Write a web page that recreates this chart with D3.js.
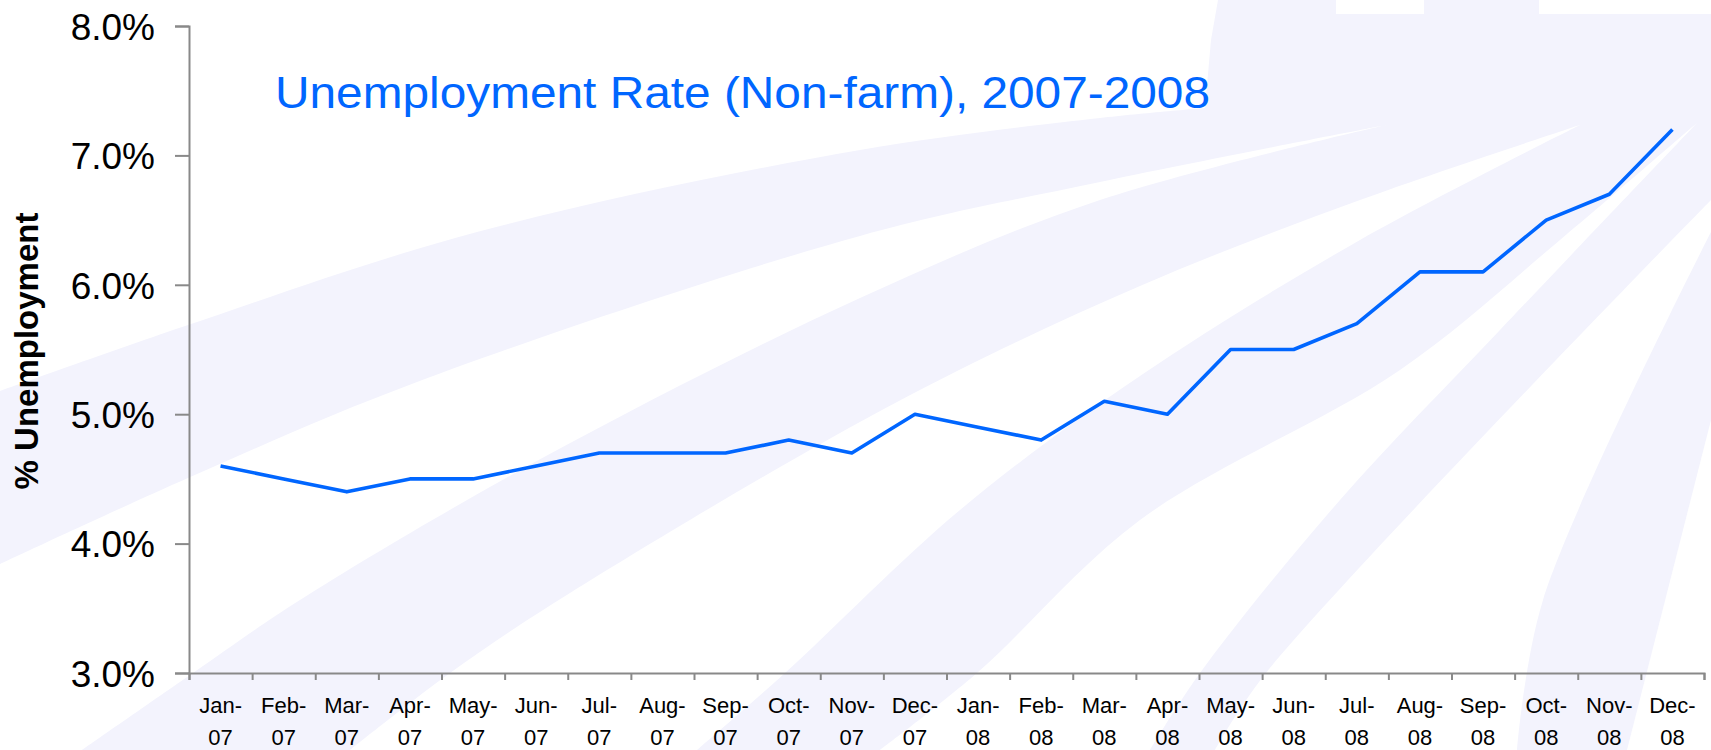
<!DOCTYPE html>
<html>
<head>
<meta charset="utf-8">
<script src="https://cdn.jsdelivr.net/npm/d3@7"></script>
<style>
  body { margin: 0; background: #fff; }
  svg { display: block; font-family: "Liberation Sans", Arial, sans-serif; }
</style>
</head>
<body>
<script>
// chart data
var months = ["Jan-07", "Feb-07", "Mar-07", "Apr-07", "May-07", "Jun-07",
              "Jul-07", "Aug-07", "Sep-07", "Oct-07", "Nov-07", "Dec-07",
              "Jan-08", "Feb-08", "Mar-08", "Apr-08", "May-08", "Jun-08",
              "Jul-08", "Aug-08", "Sep-08", "Oct-08", "Nov-08", "Dec-08"];
var rates = [4.6, 4.5, 4.4, 4.5, 4.5, 4.6, 4.7, 4.7, 4.7, 4.8, 4.7, 5.0,
             4.9, 4.8, 5.1, 5.0, 5.5, 5.5, 5.7, 6.1, 6.1, 6.5, 6.7, 7.2];
var yTicks = [3, 4, 5, 6, 7, 8];
var chartTitle = "Unemployment Rate (Non-farm), 2007-2008";
var yTitle = "% Unemployment";

var width = 1711, height = 750;
var margin = {top: 26, right: 7, bottom: 77, left: 189};

var svg = d3.select("body").append("svg")
    .attr("width", width)
    .attr("height", height);

// decorative sunburst behind the chart: a pale fan with white rays cut into it.
// each shape = curved edge, straight bits along the border, curved edge back
var edge = d3.line().curve(d3.curveCatmullRom.alpha(0.5));
function shape(s) {
  var p = edge(s.a);
  (s.corners || []).forEach(function(c) { p += "L" + c[0] + "," + c[1]; });
  if (s.b) p += "L" + edge(s.b).slice(1);
  return p + "Z";
}
var fan = {a: [[0,391],[188,325],[477,232],[860,150],[1100,118],[1205,108]],
           corners: [[1211,40],[1218,0],[1711,0],[1711,750],[0,750]]};
var rays = [
  {a: [[1336,0],[1424,0]], corners: [[1424,14],[1336,14]]},
  {a: [[1539,0],[1711,0]], corners: [[1711,14],[1539,14]]},
  {a: [[1386,125],[1100,182],[860,236],[417,382],[188,478],[0,564]],
   corners: [[0,750]],
   b: [[82,750],[193,673],[300,600],[546,456],[860,298],[1100,200],[1386,125]]},
  {a: [[1580,125],[1360,200],[1140,286],[897,402],[570,593],[450,673],[350,750]],
   corners: [[697,750]],
   b: [[697,750],[785,673],[960,510],[1140,376],[1360,240],[1580,125]]},
  {a: [[1698,122],[1560,240],[1400,370],[1140,520],[977,673],[880,750]],
   corners: [[1150,750]],
   b: [[1150,750],[1200,673],[1340,500],[1500,330],[1698,122]]},
  {a: [[1215,750],[1266,673],[1711,200]],
   corners: [[1711,232]],
   b: [[1711,232],[1543,600],[1517,750]]},
  {a: [[1627,750],[1711,420]], corners: [[1711,750]]}
];
svg.append("path").attr("d", shape(fan)).attr("fill", "#f3f3fd");
svg.selectAll(".ray").data(rays).enter().append("path")
    .attr("class", "ray")
    .attr("d", shape)
    .attr("fill", "#ffffff");

// scales
var x = d3.scaleBand().domain(months)
    .range([margin.left, width - margin.right]);
var xEdge = d3.scaleLinear().domain([0, months.length])
    .range([margin.left, width - margin.right]);
var y = d3.scaleLinear().domain([3, 8])
    .range([height - margin.bottom, margin.top]);

// y axis
var yAxis = svg.append("g")
    .attr("transform", "translate(" + margin.left + ",0)")
    .call(d3.axisLeft(y).tickValues(yTicks).tickSize(14).tickPadding(20)
      .tickFormat(function(d) { return d.toFixed(1) + "%"; }));
yAxis.selectAll("text").attr("font-size", 37).attr("fill", "#000")
    .attr("font-family", "'Liberation Sans', Arial, sans-serif")
    .attr("dy", "0.36em");

// x axis: ticks on the month boundaries
svg.append("g")
    .attr("transform", "translate(0," + (height - margin.bottom) + ")")
    .call(d3.axisBottom(xEdge).tickValues(d3.range(months.length + 1))
      .tickSize(7).tickFormat(""));

// x axis: month labels at band centres
var xLab = svg.append("g")
    .attr("transform", "translate(0," + (height - margin.bottom) + ")")
    .call(d3.axisBottom(x).tickSize(0).tickPadding(0));
xLab.select(".domain").remove();
xLab.selectAll("text").each(function(d) {
  var parts = d.split("-");
  var t = d3.select(this).text(null)
      .attr("font-size", 22).attr("fill", "#000")
      .attr("font-family", "'Liberation Sans', Arial, sans-serif")
      .attr("dy", null).attr("y", 40);
  t.append("tspan").attr("x", 0).text(parts[0] + "-");
  t.append("tspan").attr("x", 0).attr("dy", 32).text(parts[1]);
});

svg.selectAll(".domain, .tick line")
    .attr("stroke", "#898989").attr("stroke-width", 2);

// data line
var valueline = d3.line()
    .x(function(d, i) { return x(months[i]) + x.bandwidth() / 2; })
    .y(function(d) { return y(d); });
svg.append("path")
    .datum(rates)
    .attr("fill", "none")
    .attr("stroke", "#0066ff")
    .attr("stroke-width", 3.6)
    .attr("stroke-linejoin", "round")
    .attr("d", valueline);

// chart title
svg.append("text")
    .attr("x", 275).attr("y", 108)
    .attr("font-size", 44)
    .attr("fill", "#0066ff")
    .attr("textLength", 935)
    .attr("lengthAdjust", "spacingAndGlyphs")
    .text(chartTitle);

// y axis title
svg.append("text")
    .attr("transform", "translate(38,351) rotate(-90)")
    .attr("text-anchor", "middle")
    .attr("font-size", 33)
    .attr("font-weight", "bold")
    .attr("fill", "#000")
    .text(yTitle);
</script>
</body>
</html>
